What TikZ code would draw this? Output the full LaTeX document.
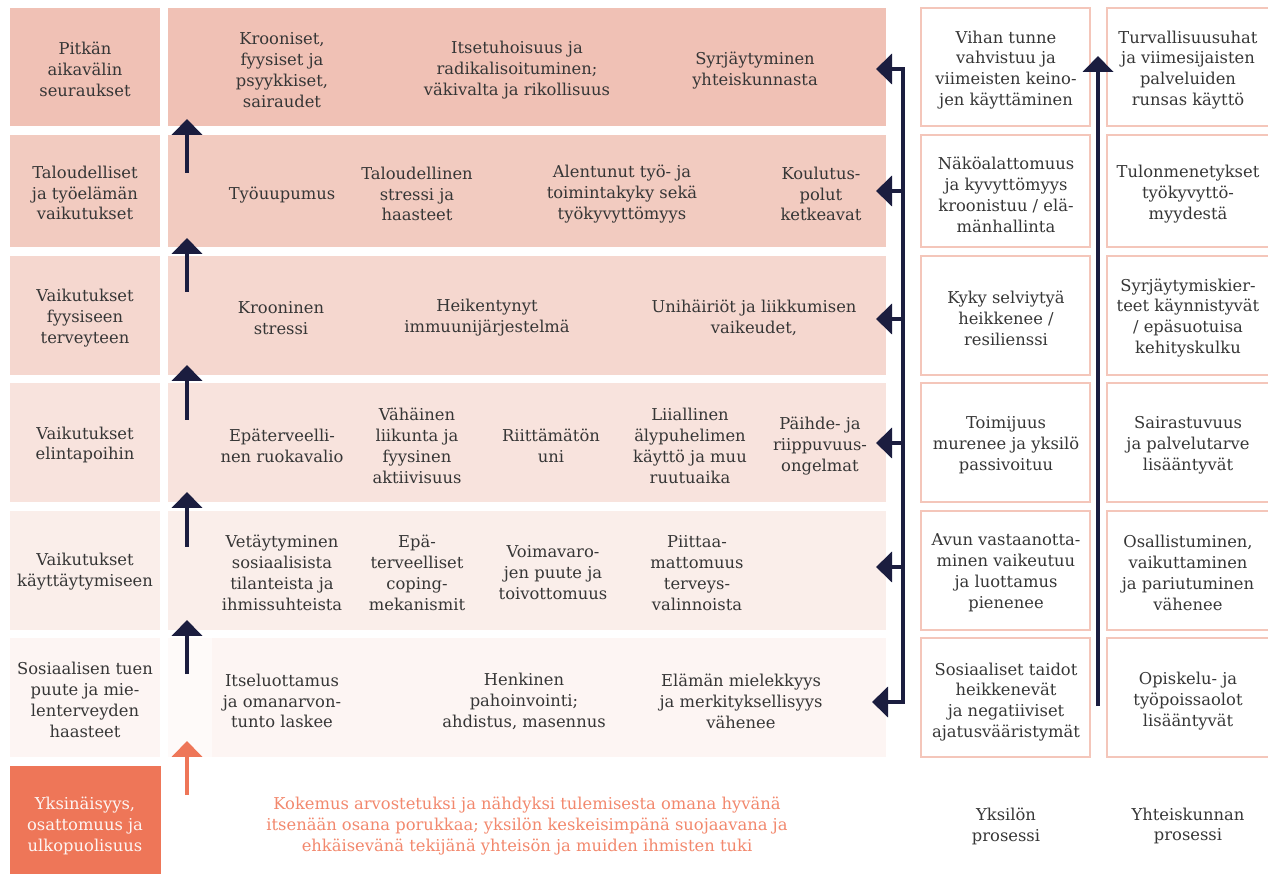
\documentclass[tikz,border=0pt]{standalone}
\usepackage{fontspec}
\setmainfont{DejaVu Serif}
\usetikzlibrary{arrows.meta}

\definecolor{rowA}{HTML}{F0C1B5}
\definecolor{rowB}{HTML}{F2CBC0}
\definecolor{rowC}{HTML}{F5D7CF}
\definecolor{rowD}{HTML}{F8E3DD}
\definecolor{rowE}{HTML}{FAEEEA}
\definecolor{rowF}{HTML}{FDF5F3}
\definecolor{rowG}{HTML}{FEFAF9}
\definecolor{lonely}{HTML}{EE7658}
\definecolor{lonelytxt}{HTML}{F2886D}
\definecolor{navy}{HTML}{1B1D3F}
\definecolor{ink}{HTML}{363636}
\definecolor{edge}{HTML}{F4C6BA}

\newcommand{\fsz}{\fontsize{9.3}{11.9}\selectfont}

\begin{document}
\begin{tikzpicture}[x=0.02cm,y=-0.02cm,>={Triangle[width=0.6cm,length=0.32cm]},
  txt/.style={align=center,text=ink,font=\fsz,inner sep=0pt},
  uparr/.style={->,draw=navy,line width=2.8pt},
  pbox/.style={draw=edge,line width=0.8pt}]
\useasboundingbox (0,0) rectangle (1268,874);
\clip (0,0) rectangle (1268,874);

% rivit
\fill[rowA] (10,8) rectangle (160,126);
\fill[rowA] (168,8) rectangle (886,126);
\fill[rowB] (10,135) rectangle (160,247);
\fill[rowB] (168,135) rectangle (886,247);
\fill[rowC] (10,256) rectangle (160,375);
\fill[rowC] (168,256) rectangle (886,375);
\fill[rowD] (10,383) rectangle (160,502);
\fill[rowD] (168,383) rectangle (886,502);
\fill[rowE] (10,511) rectangle (160,630);
\fill[rowE] (168,511) rectangle (886,630);
\fill[rowF] (10,638) rectangle (160,757);
\fill[rowG] (168,638) rectangle (212,757);
\fill[rowF] (212,638) rectangle (886,757);
\fill[lonely] (10,766) rectangle (161,880);

% prosessilaatikot
\draw[pbox] (921,8) rectangle (1090,126);
\draw[pbox] (1107,8) rectangle (1290,126);
\draw[pbox] (921,135) rectangle (1090,247);
\draw[pbox] (1107,135) rectangle (1290,247);
\draw[pbox] (921,256) rectangle (1090,375);
\draw[pbox] (1107,256) rectangle (1290,375);
\draw[pbox] (921,383) rectangle (1090,502);
\draw[pbox] (1107,383) rectangle (1290,502);
\draw[pbox] (921,511) rectangle (1090,630);
\draw[pbox] (1107,511) rectangle (1290,630);
\draw[pbox] (921,638) rectangle (1090,757);
\draw[pbox] (1107,638) rectangle (1290,757);

% vasen sarake
\node[txt] (l1) at (85,69) {Pitkän\\aikavälin\\seuraukset};
\node[txt] (l2) at (85,193) {Taloudelliset\\ja työelämän\\vaikutukset};
\node[txt] (l3) at (85,318) {Vaikutukset\\fyysiseen\\terveyteen};
\node[txt] (l4) at (85,445) {Vaikutukset\\elintapoihin};
\node[txt] (l5) at (85,572) {Vaikutukset\\käyttäytymiseen};
\node[txt] (l6) at (85,700) {Sosiaalisen tuen\\puute ja mie-\\lenterveyden\\haasteet};
\node[txt,text=rowF] (l7) at (85,826) {Yksinäisyys,\\osattomuus ja\\ulkopuolisuus};

% seuraukset
\node[txt] (m11) at (282,70) {Krooniset,\\fyysiset ja\\psyykkiset,\\sairaudet};
\node[txt] (m12) at (517,70) {Itsetuhoisuus ja\\radikalisoituminen;\\väkivalta ja rikollisuus};
\node[txt] (m13) at (755,71) {Syrjäytyminen\\yhteiskunnasta};

\node[txt] (m21) at (282,195) {Työuupumus};
\node[txt] (m22) at (417,194) {Taloudellinen\\stressi ja\\haasteet};
\node[txt] (m23) at (622,194) {Alentunut työ- ja\\toimintakyky sekä\\työkyvyttömyys};
\node[txt] (m24) at (821,194) {Koulutus-\\polut\\ketkeavat};

\node[txt] (m31) at (281,318) {Krooninen\\stressi};
\node[txt] (m32) at (487,318) {Heikentynyt\\immuunijärjestelmä};
\node[txt] (m33) at (754,318) {Unihäiriöt ja liikkumisen\\vaikeudet,};

\node[txt] (m41) at (282,446) {Epäterveelli-\\nen ruokavalio};
\node[txt] (m42) at (417,446) {Vähäinen\\liikunta ja\\fyysinen\\aktiivisuus};
\node[txt] (m43) at (551,446) {Riittämätön\\uni};
\node[txt] (m44) at (690,446) {Liiallinen\\älypuhelimen\\käyttö ja muu\\ruutuaika};
\node[txt] (m45) at (820,446) {Päihde- ja\\riippuvuus-\\ongelmat};

\node[txt] (m51) at (282,573) {Vetäytyminen\\sosiaalisista\\tilanteista ja\\ihmissuhteista};
\node[txt] (m52) at (417,573) {Epä-\\terveelliset\\coping-\\mekanismit};
\node[txt] (m53) at (553,573) {Voimavaro-\\jen puute ja\\toivottomuus};
\node[txt] (m54) at (697,573) {Piittaa-\\mattomuus\\terveys-\\valinnoista};

\node[txt] (m61) at (282,701) {Itseluottamus\\ja omanarvon-\\tunto laskee};
\node[txt] (m62) at (524,701) {Henkinen\\pahoinvointi;\\ahdistus, masennus};
\node[txt] (m63) at (741,701) {Elämän mielekkyys\\ja merkityksellisyys\\vähenee};

\node[txt,text=lonelytxt] (tuki) at (527,826) {Kokemus arvostetuksi ja nähdyksi tulemisesta omana hyvänä\\itsenään osana porukkaa; yksilön keskeisimpänä suojaavana ja\\ehkäisevänä tekijänä yhteisön ja muiden ihmisten tuki};

% yksilön prosessi
\node[txt] (p1) at (1006,70) {Vihan tunne\\vahvistuu ja\\viimeisten keino-\\jen käyttäminen};
\node[txt] (p2) at (1006,195) {Näköalattomuus\\ja kyvyttömyys\\kroonistuu / elä-\\mänhallinta};
\node[txt] (p3) at (1006,318) {Kyky selviytyä\\heikkenee /\\resilienssi};
\node[txt] (p4) at (1006,445) {Toimijuus\\murenee ja yksilö\\passivoituu};
\node[txt] (p5) at (1006,573) {Avun vastaanotta-\\minen vaikeutuu\\ja luottamus\\pienenee};
\node[txt] (p6) at (1006,702) {Sosiaaliset taidot\\heikkenevät\\ja negatiiviset\\ajatusvääristymät};
\node[txt] (pyks) at (1006,826) {Yksilön\\prosessi};

% yhteiskunnan prosessi
\node[txt] (s1) at (1188,70) {Turvallisuusuhat\\ja viimesijaisten\\palveluiden\\runsas käyttö};
\node[txt] (s2) at (1188,194) {Tulonmenetykset\\työkyvyttö-\\myydestä};
\node[txt] (s3) at (1188,318) {Syrjäytymiskier-\\teet käynnistyvät\\/ epäsuotuisa\\kehityskulku};
\node[txt] (s4) at (1188,445) {Sairastuvuus\\ja palvelutarve\\lisääntyvät};
\node[txt] (s5) at (1188,573) {Osallistuminen,\\vaikuttaminen\\ja pariutuminen\\vähenee};
\node[txt] (s6) at (1188,701) {Opiskelu- ja\\työpoissaolot\\lisääntyvät};
\node[txt] (syht) at (1188,826) {Yhteiskunnan\\prosessi};

% nuolet ylöspäin
\coordinate (a1b) at (187,173); \coordinate (a1t) at (187,119);
\coordinate (a2b) at (187,292); \coordinate (a2t) at (187,238);
\coordinate (a3b) at (187,420); \coordinate (a3t) at (187,365);
\coordinate (a4b) at (187,547); \coordinate (a4t) at (187,492);
\coordinate (a5b) at (187,674); \coordinate (a5t) at (187,620);
\coordinate (a6b) at (187,795); \coordinate (a6t) at (187,741);
\draw[uparr] (a1b) -- (a1t);
\draw[uparr] (a2b) -- (a2t);
\draw[uparr] (a3b) -- (a3t);
\draw[uparr] (a4b) -- (a4t);
\draw[uparr] (a5b) -- (a5t);
\draw[uparr,draw=lonely] (a6b) -- (a6t);

% yksilön nuolet
\coordinate (ic1) at (903,69);  \coordinate (it1) at (876,69);
\coordinate (ic2) at (903,191); \coordinate (it2) at (876,191);
\coordinate (ic3) at (903,319); \coordinate (it3) at (876,319);
\coordinate (ic4) at (903,443); \coordinate (it4) at (876,443);
\coordinate (ic5) at (903,567); \coordinate (it5) at (876,567);
\coordinate (ic6) at (903,702); \coordinate (it6) at (872,702);
\draw[uparr,<->,line join=miter] (it1) -- (ic1) -- (ic6) -- (it6);
\draw[uparr] (ic2) -- (it2);
\draw[uparr] (ic3) -- (it3);
\draw[uparr] (ic4) -- (it4);
\draw[uparr] (ic5) -- (it5);

% yhteiskunnan nuoli
\coordinate (sb) at (1098,706); \coordinate (st) at (1098,56);
\draw[uparr] (sb) -- (st);
\end{tikzpicture}
\end{document}
